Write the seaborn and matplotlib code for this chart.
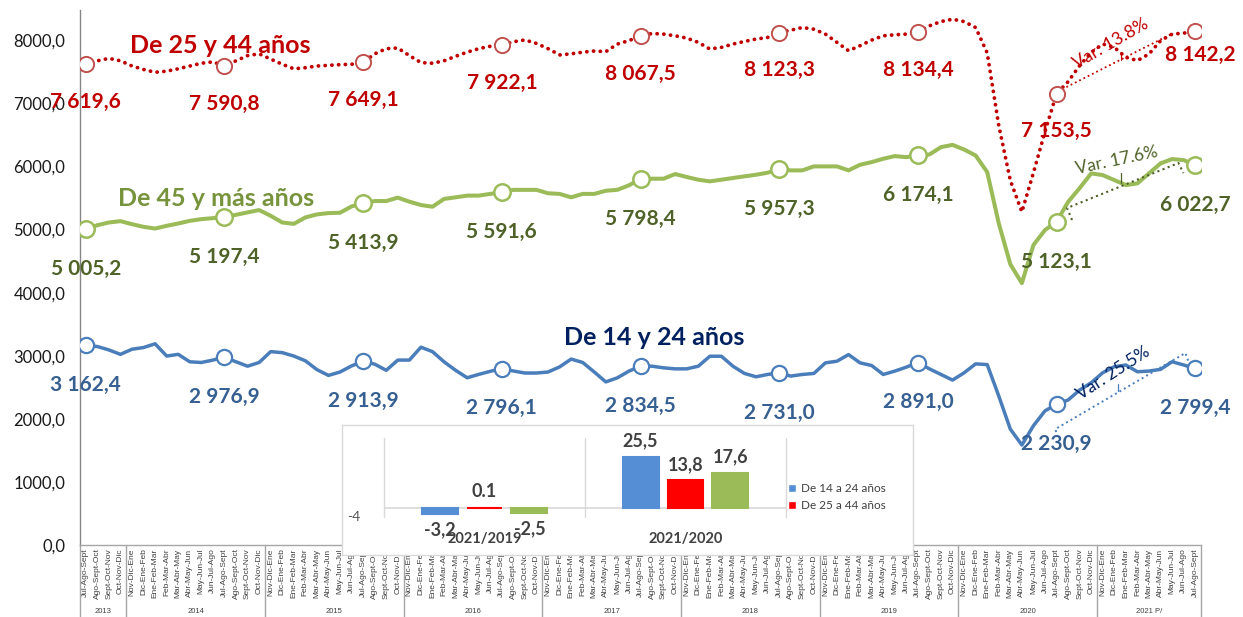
import numpy as np
import pandas as pd
import matplotlib
matplotlib.use("Agg")
import matplotlib.pyplot as plt
from matplotlib.patches import Patch
import seaborn as sns

# ---------------- data ----------------
trimestres = ["Nov-Dic-Ene", "Dic-Ene-Feb", "Ene-Feb-Mar", "Feb-Mar-Abr", "Mar-Abr-May",
              "Abr-May-Jun", "May-Jun-Jul", "Jun-Jul-Ago", "Jul-Ago-Sept", "Ago-Sept-Oct",
              "Sept-Oct-Nov", "Oct-Nov-Dic"]
years = ["2013", "2014", "2015", "2016", "2017", "2018", "2019", "2020", "2021 P/"]
year_sizes = [4, 12, 12, 12, 12, 12, 12, 12, 9]
periods = trimestres[8:] + trimestres * 7 + trimestres[:9]

s_25_44 = [7619.6, 7675, 7713, 7675, 7592, 7537, 7493, 7510, 7548, 7592, 7636, 7658,
           7590.8, 7675, 7757, 7785, 7702, 7620, 7548, 7565, 7592, 7603, 7614, 7620,
           7649.1, 7785, 7867, 7878, 7757, 7647, 7636, 7675, 7746, 7812, 7867, 7905,
           7922.1, 7977, 8005, 7950, 7867, 7768, 7785, 7812, 7830, 7820, 7940, 7995,
           8067.5, 8108, 8098, 8071, 8035, 7967, 7862, 7888, 7940, 7982, 8019, 8045,
           8123.3, 8160, 8202, 8176, 8098, 7967, 7835, 7914, 8003, 8071, 8087, 8098,
           8134.4, 8229, 8297, 8334, 8297, 8202, 7800, 6650, 5780, 5280, 5900, 6550,
           7153.5, 7344, 7599, 7809, 7940, 7888, 7730, 7678, 7783, 7993, 8098, 8113,
           8142.2]
s_45_mas = [5005.2, 5069, 5112, 5133, 5085, 5043, 5016, 5059, 5096, 5138, 5165, 5181,
            5197.4, 5234, 5272, 5309, 5218, 5112, 5090, 5192, 5240, 5261, 5266, 5367,
            5413.9, 5452, 5452, 5506, 5442, 5389, 5362, 5485, 5511, 5538, 5538, 5565,
            5591.6, 5629, 5629, 5629, 5575, 5565, 5511, 5565, 5565, 5615, 5630, 5701,
            5798.4, 5806, 5806, 5880, 5833, 5790, 5764, 5790, 5817, 5843, 5869, 5901,
            5957.3, 5938, 5938, 6001, 6001, 6001, 5938, 6027, 6069, 6122, 6164, 6148,
            6174.1, 6190, 6306, 6342, 6269, 6174, 5911, 5100, 4450, 4151, 4755, 4992,
            5123.1, 5438, 5657, 5890, 5863, 5784, 5705, 5732, 5890, 6049, 6117, 6101,
            6022.7]
s_14_24 = [3162.4, 3146, 3092, 3022, 3103, 3130, 3189, 2995, 3022, 2904, 2893, 2931,
           2976.9, 2904, 2834, 2893, 3065, 3049, 2995, 2920, 2780, 2688, 2742, 2839,
           2913.9, 2866, 2769, 2931, 2931, 3135, 3065, 2904, 2769, 2651, 2704, 2753,
           2796.1, 2758, 2726, 2726, 2742, 2823, 2947, 2893, 2742, 2585, 2650, 2756,
           2834.5, 2834, 2808, 2792, 2792, 2834, 2992, 2992, 2834, 2719, 2666, 2703,
           2731.0, 2677, 2703, 2719, 2887, 2913, 3018, 2887, 2845, 2703, 2756, 2819,
           2891.0, 2792, 2703, 2614, 2729, 2871, 2860, 2362, 1837, 1585, 1890, 2126,
           2230.9, 2298, 2456, 2572, 2731, 2826, 2853, 2746, 2757, 2784, 2905, 2853,
           2799.4]
highlight_idx = [0, 12, 24, 36, 48, 60, 72, 84, 96]

series_titles = ["De 25 y 44 años", "De 45 y más años", "De 14 y 24 años"]
var_texts = ["Var: 13.8%", "Var. 17.6%", "Var. 25.5%"]

bar_groups = ["2021/2019", "2021/2020"]
bar_series = ["De 14 a 24 años", "De 25 a 44 años", "De 45 y más años"]
bar_14_24 = [-3.2, 25.5]
bar_25_44 = [0.1, 13.8]
bar_45_mas = [-2.5, 17.6]
bar_txt_14_24 = ["-3,2", "25,5"]
bar_txt_25_44 = ["0.1", "13,8"]
bar_txt_45_mas = ["-2,5", "17,6"]

# ---------------- style ----------------
sns.set_theme(style="white")
plt.rcParams["font.family"] = ["Lato", "DejaVu Sans"]

RED, RED_C, RED_T = "#C00000", "#C0504D", "#C00000"
GRN, GRN_T, GRN_H = "#9BBB59", "#4F6228", "#77933C"
BLU, BLU_T, BLU_H = "#4A7EBB", "#376092", "#002060"
AXC = "#A6A6A6"

W, H = 1243, 617
def fx(px): return px / W
def fy(py): return 1 - py / H

fig = plt.figure(figsize=(W / 100, H / 100), dpi=100)
fig.patch.set_facecolor("white")
ax = fig.add_axes([fx(80), fy(545), fx(1201) - fx(80), fy(10) - fy(545)])

df = pd.DataFrame({"idx": np.arange(len(periods)), "periodo": periods,
                   "s_25_44": s_25_44, "s_45_mas": s_45_mas, "s_14_24": s_14_24})

sns.lineplot(data=df, x="idx", y="s_45_mas", ax=ax, color=GRN, linewidth=2.9)
sns.lineplot(data=df, x="idx", y="s_14_24", ax=ax, color=BLU, linewidth=2.5)
sns.lineplot(data=df, x="idx", y="s_25_44", ax=ax, color=RED, linewidth=2.7)
red_line = ax.lines[-1]
red_line.set_linestyle((0, (0.05, 1.75)))
red_line.set_dash_capstyle("round")

hl = df.iloc[highlight_idx]
sns.scatterplot(data=hl, x="idx", y="s_25_44", ax=ax, s=120, facecolor="white",
                edgecolor=RED_C, linewidth=1.4, zorder=5)
sns.scatterplot(data=hl, x="idx", y="s_45_mas", ax=ax, s=140, facecolor="white",
                edgecolor=GRN, linewidth=1.8, zorder=5)
sns.scatterplot(data=hl, x="idx", y="s_14_24", ax=ax, s=120, facecolor="white",
                edgecolor=BLU, linewidth=1.6, zorder=5)

def fmt(v):
    return f"{v:,.1f}".replace(",", " ").replace(".", ",")

for k, i in enumerate(highlight_idx):
    last = (k == len(highlight_idx) - 1)
    ax.annotate(fmt(s_25_44[i]), (i, s_25_44[i]), xytext=((4, -21) if last else (0, -31.5)),
                textcoords="offset points", ha="center", va="baseline",
                fontsize=15, fontweight="bold", color=RED_T, zorder=6)
    ax.annotate(fmt(s_45_mas[i]), (i, s_45_mas[i]), xytext=(0, -33),
                textcoords="offset points", ha="center", va="baseline",
                fontsize=15, fontweight="bold", color=GRN_T, zorder=6)
    ax.annotate(fmt(s_14_24[i]), (i, s_14_24[i]), xytext=(0, -33),
                textcoords="offset points", ha="center", va="baseline",
                fontsize=15, fontweight="bold", color=BLU_T, zorder=6)

# series titles
ax.text(11.6, 7797, series_titles[0], ha="center", va="baseline", fontsize=18,
        fontweight="bold", color=RED)
ax.text(11.3, 5372, series_titles[1], ha="center", va="baseline", fontsize=18,
        fontweight="bold", color=GRN_H)
ax.text(49.2, 3170, series_titles[2], ha="center", va="baseline", fontsize=18,
        fontweight="bold", color=BLU_H)

# variation annotations
ax.text(88.7, 7940, var_texts[0], ha="center", va="center", rotation=30,
        fontsize=12.5, color=RED)
ax.text(89.2, 6101, var_texts[1], ha="center", va="center", rotation=12,
        fontsize=12.5, color=GRN_T)
ax.text(88.9, 2726, var_texts[2], ha="center", va="center", rotation=33,
        fontsize=12.5, color=BLU_H)
ax.plot([84.85, 94.1], [7258, 8114], ls=":", lw=1.3, color=RED)
ax.plot([89.6, 89.6], [7813, 7686], ls="-", lw=0.8, color=RED)
ax.plot([85.34, 84.91, 94.55, 94.98], [5151, 5341, 6054, 5895], ls=":", lw=1.5, color=GRN_T)
ax.plot([89.6, 89.6], [5895, 5737], ls="-", lw=0.9, color=GRN_T)
ax.plot([84.07, 83.9, 95.15, 95.4], [1712, 1838, 3043, 2916], ls=":", lw=1.4, color=BLU)
ax.plot([89.35, 89.35], [2552, 2441], ls="-", lw=0.9, color=BLU)

# axes
ax.set_xlim(-0.5, len(periods) - 0.5)
ax.set_ylim(0, 8480)
ax.set_yticks(np.arange(0, 8001, 1000))
ax.set_yticklabels([f"{v:.1f}".replace(".", ",") for v in np.arange(0, 8001, 1000)])
ax.set_xticks(df["idx"])
ax.set_xticklabels(periods, rotation=90, fontsize=6, color="#404040",
                   fontfamily="Liberation Sans")
ax.set_xticks(np.arange(-0.5, len(periods), 1), minor=True)
ax.tick_params(axis="x", which="major", length=0, pad=2.5)
ax.tick_params(axis="x", which="minor", length=45, width=0.8, color="#BFBFBF", direction="out")
ax.tick_params(axis="y", which="major", length=4.5, width=0.9, color="#868686",
               direction="out", labelsize=12, labelcolor="#1a1a1a", pad=6)
ax.set_xlabel("")
ax.set_ylabel("")
for s in ["top", "right"]:
    ax.spines[s].set_visible(False)
ax.spines["left"].set_color("#868686")
ax.spines["bottom"].set_color(AXC)
ax.spines["left"].set_linewidth(1.0)
ax.spines["bottom"].set_linewidth(1.0)

xt = ax.get_xaxis_transform()
bounds = np.concatenate([[0], np.cumsum(year_sizes)]) - 0.5
for b in bounds:
    ax.plot([b, b], [0, -0.14], transform=xt, clip_on=False, color=AXC, lw=1.0)
for y, a, b in zip(years, bounds[:-1], bounds[1:]):
    ax.text((a + b) / 2, -0.125, y, transform=xt, ha="center", va="center",
            fontsize=5.5, color="#404040", fontfamily="Liberation Sans")

# ---------------- inset ----------------
box = fig.add_axes([fx(342), fy(555), fx(913) - fx(342), fy(425) - fy(555)])
box.set_facecolor("white")
box.set_xticks([])
box.set_yticks([])
for s in box.spines.values():
    s.set_color("#D9D9D9")
    s.set_linewidth(1.0)

bax = fig.add_axes([fx(384), fy(516), fx(786) - fx(384), fy(438) - fy(516)])
bax.patch.set_alpha(0)
bdf = pd.DataFrame({
    "grupo": bar_groups * 3,
    "serie": [bar_series[0]] * 2 + [bar_series[1]] * 2 + [bar_series[2]] * 2,
    "valor": bar_14_24 + bar_25_44 + bar_45_mas,
    "texto": bar_txt_14_24 + bar_txt_25_44 + bar_txt_45_mas,
})
bar_cols = ["#558ED5", "#FF0000", "#9BBB59"]
sns.barplot(data=bdf, x="grupo", y="valor", hue="serie", hue_order=bar_series,
            palette=bar_cols, width=0.67, gap=0.2, ax=bax, legend=False,
            saturation=1, errorbar=None)
bax.set_xlim(-0.5, 1.5)
bax.set_ylim(-4, 35)
lookup = dict(zip(bdf["valor"], bdf["texto"]))
for p in bax.patches:
    h = p.get_height()
    if h not in lookup:
        continue
    p.set_edgecolor(p.get_facecolor())
    p.set_linewidth(1.5)
    cx = p.get_x() + p.get_width() / 2
    off = 7.5 if h >= 0 else -15
    bax.annotate(lookup[h], (cx, h), xytext=(0, off), textcoords="offset points",
                 ha="center", va="baseline", fontsize=13, fontweight="bold",
                 color="#404040")
bax.axhline(0, color="#D9D9D9", lw=1.2, zorder=0)
for b in [-0.5, 0.5, 1.5]:
    bax.plot([b, b], [-4.5, 35], color="#D9D9D9", lw=1.0, clip_on=False, zorder=0)
for s in bax.spines.values():
    s.set_visible(False)
bax.set_xticks([])
bax.set_yticks([-4])
bax.set_yticklabels(["-4"])
bax.tick_params(axis="y", length=0, pad=17, labelsize=10, labelcolor="#595959")
bax.set_xlabel("")
bax.set_ylabel("")
bxt = bax.get_xaxis_transform()
for g, name in enumerate(bar_groups):
    bax.text(g, -0.3, name, transform=bxt, ha="center", va="center",
             fontsize=10.5, fontweight="bold", color="#404040")
handles = [Patch(facecolor=bar_cols[0]), Patch(facecolor=bar_cols[1])]
bax.legend(handles, bar_series[:2], loc="upper left", bbox_to_anchor=(fx(788), fy(483)),
           bbox_transform=fig.transFigure, frameon=False, fontsize=8.5,
           handlelength=0.7, handleheight=0.7, handletextpad=0.4, labelspacing=0.55,
           labelcolor="#404040", borderaxespad=0, borderpad=0)

fig.savefig("out.png", dpi=100, facecolor="white")
